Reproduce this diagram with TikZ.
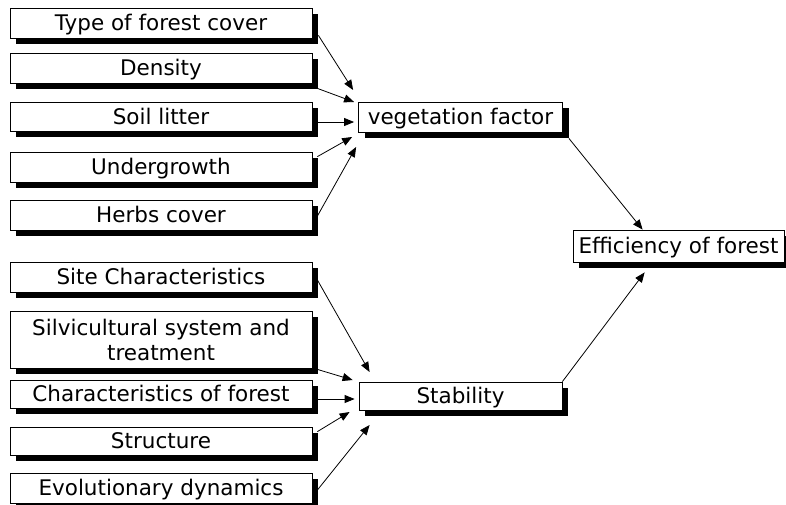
\documentclass[tikz,border=0pt]{standalone}
\usepackage{fontspec}
\setmainfont{DejaVu Sans}
\usetikzlibrary{arrows.meta,shadows,calc}
\begin{document}
\begin{tikzpicture}[x=1pt,y=-1pt,
  fbox/.style={draw=black,fill=white,line width=0.8pt,inner sep=0pt,
    font=\fontsize{21.5}{25}\selectfont,align=center,
    text height=17pt,text depth=1.5pt,
    drop shadow={shadow xshift=6pt,shadow yshift=-6pt,fill=black,opacity=1}},
  lbox/.style={fbox,minimum width=302pt},
  conn/.style={line width=0.8pt,-{Triangle[length=10pt,width=8pt]}}]
\useasboundingbox (0,0) rectangle (786,504);
% upper group
\node[lbox,minimum height=30pt] (t1) at (161,23) {Type of forest cover};
\node[lbox,minimum height=30pt] (t2) at (161,68) {Density};
\node[lbox,minimum height=29pt] (t3) at (161,116.5) {Soil litter};
\node[lbox,minimum height=30pt] (t4) at (161,167) {Undergrowth};
\node[lbox,minimum height=30pt] (t5) at (161,215) {Herbs cover};
% lower group
\node[lbox,minimum height=30pt] (s1) at (161,277) {Site Characteristics};
\node[lbox,minimum height=57pt,text height={},text depth={}] (s2) at (161,339.5) {Silvicultural system and\\treatment};
\node[lbox,minimum height=28pt] (s3) at (161,394) {Characteristics of forest};
\node[lbox,minimum height=28pt] (s4) at (161,441) {Structure};
\node[lbox,minimum height=30pt] (s5) at (161,488) {Evolutionary dynamics};
% middle
\node[fbox,minimum width=204pt,minimum height=30pt] (veg) at (460.5,117) {vegetation factor};
\node[fbox,minimum width=203pt,minimum height=28pt] (stab) at (460.5,396) {Stability};
\node[fbox,minimum width=211pt,minimum height=32pt] (eff) at (678.5,246) {Efficiency of forest};
% connectors upper
\draw[conn] ($(t1.south east)+(6,-3)$) -- ($(veg.west)+(-5,-27)$);
\draw[conn] ($(t2.south east)+(5,5)$) -- ($(veg.west)+(-4,-15)$);
\draw[conn] ($(t3.east)+(5,5.5)$) -- ($(veg.west)+(-4,5)$);
\draw[conn] ($(t4.north east)+(5,5)$) -- ($(veg.west)+(-6,20)$);
\draw[conn] ($(t5.east)+(5,1)$) -- ($(veg.west)+(-2,30)$);
% connectors lower
\draw[conn] ($(s1.east)+(5,3)$) -- ($(stab.west)+(11,-24)$);
\draw[conn] ($(s2.south east)+(5,1)$) -- ($(stab.west)+(-6,-16)$);
\draw[conn] ($(s3.east)+(5,5)$) -- ($(stab.west)+(-4,3)$);
\draw[conn] ($(s4.north east)+(5,5)$) -- ($(stab.west)+(-9,16)$);
\draw[conn] ($(s5.east)+(5,2)$) -- ($(stab.west)+(11,29)$);
% to efficiency
\draw[conn] ($(veg.south east)+(6,6)$) -- ($(eff.north west)+(70,0)$);
\draw[conn] (stab.north east) -- ($(eff.south west)+(72,10)$);
\end{tikzpicture}
\end{document}
